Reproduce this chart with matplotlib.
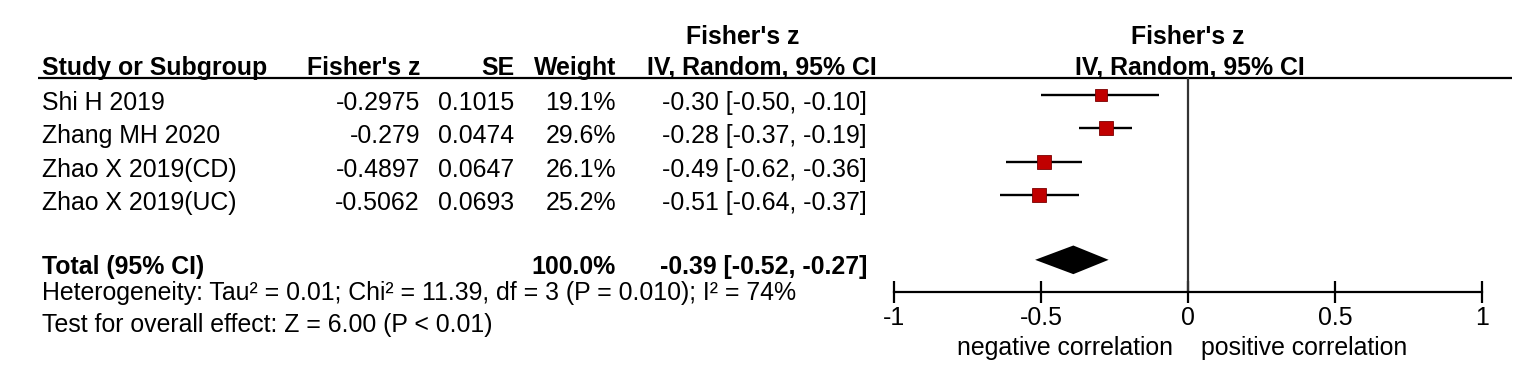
import matplotlib.pyplot as plt
import numpy as np

plt.rcParams['font.family'] = ['Liberation Sans', 'DejaVu Sans']

# data
studies = ["Shi H 2019", "Zhang MH 2020", "Zhao X 2019(CD)", "Zhao X 2019(UC)"]
fisher_z = [-0.2975, -0.279, -0.4897, -0.5062]
se = [0.1015, 0.0474, 0.0647, 0.0693]
weight = [19.1, 29.6, 26.1, 25.2]
ci_est = [-0.30, -0.28, -0.49, -0.51]
ci_lo = [-0.50, -0.37, -0.62, -0.64]
ci_hi = [-0.10, -0.19, -0.36, -0.37]
total_est, total_lo, total_hi = -0.39, -0.52, -0.27
total_weight = 100.0
het_text = "Heterogeneity: Tau\u00b2 = 0.01; Chi\u00b2 = 11.39, df = 3 (P = 0.010); I\u00b2 = 74%"
test_text = "Test for overall effect: Z = 6.00 (P < 0.01)"
xticks = [-1, -0.5, 0, 0.5, 1]
xticklabels = ["-1", "-0.5", "0", "0.5", "1"]

W, H = 1535, 367
FS = 17.9
fig = plt.figure(figsize=(W / 100, H / 100), dpi=100)

# background axes in pixel units for the text table
tx = fig.add_axes([0, 0, 1, 1])
tx.set_xlim(0, W)
tx.set_ylim(H, 0)
tx.axis('off')

row0, rowh = 61.7, 33.3
def row_px(r):
    return row0 + rowh * r

# forest axes: x -1..1 at px 894..1482, y from header line (78) to axis (292)
fx0, fx1, fy_top, fy_bot = 894, 1482, 78, 292
ax = fig.add_axes([fx0 / W, 1 - fy_bot / H, (fx1 - fx0) / W, (fy_bot - fy_top) / H])
ax.patch.set_alpha(0)
ax.set_xlim(-1, 1)
ax.set_ylim((fy_bot - row0) / rowh, (fy_top - row0) / rowh)

rows = np.arange(1, len(studies) + 1)
total_row = 5.95

# headers
tx.text(743, 44, "Fisher's z", fontsize=FS, fontweight='bold', ha='center', va='baseline')
tx.text(42, 75, "Study or Subgroup", fontsize=FS, fontweight='bold', ha='left', va='baseline')
tx.text(420, 75, "Fisher's z", fontsize=FS, fontweight='bold', ha='right', va='baseline')
tx.text(514, 75, "SE", fontsize=FS, fontweight='bold', ha='right', va='baseline')
tx.text(616, 75, "Weight", fontsize=FS, fontweight='bold', ha='right', va='baseline')
tx.text(762, 75, "IV, Random, 95% CI", fontsize=FS, fontweight='bold', ha='center', va='baseline')
tx.text(1188, 44, "Fisher's z", fontsize=FS, fontweight='bold', ha='center', va='baseline')
tx.text(1190, 75, "IV, Random, 95% CI", fontsize=FS, fontweight='bold', ha='center', va='baseline')
tx.plot([38, 1512], [78, 78], color='black', lw=1.6, solid_capstyle='butt')

# study rows
for r, name, z, s, w, e, lo, hi in zip(rows, studies, fisher_z, se, weight, ci_est, ci_lo, ci_hi):
    yb = row_px(r) + 15
    tx.text(42, yb, name, fontsize=FS, ha='left', va='baseline')
    tx.text(420, yb, str(z), fontsize=FS, ha='right', va='baseline')
    tx.text(514, yb, f"{s:.4f}", fontsize=FS, ha='right', va='baseline')
    tx.text(616, yb, f"{w:.1f}%", fontsize=FS, ha='right', va='baseline')
    tx.text(867, yb, f"{e:.2f} [{lo:.2f}, {hi:.2f}]", fontsize=FS, ha='right', va='baseline')

yb = row_px(total_row) + 14
tx.text(42, yb, "Total (95% CI)", fontsize=FS, fontweight='bold', ha='left', va='baseline')
tx.text(616, yb, f"{total_weight:.1f}%", fontsize=FS, fontweight='bold', ha='right', va='baseline')
tx.text(867, yb, f"{total_est:.2f} [{total_lo:.2f}, {total_hi:.2f}]", fontsize=FS,
        fontweight='bold', ha='right', va='baseline')
tx.text(42, 300, het_text, fontsize=FS, ha='left', va='baseline')
tx.text(42, 332, test_text, fontsize=FS, ha='left', va='baseline')

# forest marks
ax.axvline(0, color='#333333', lw=1.6)
ax.hlines(rows, ci_lo, ci_hi, color='black', lw=1.7)
for r, e, w in zip(rows, fisher_z, weight):
    ax.plot(e, r, marker='s', ms=2.65 * np.sqrt(w) * 0.72, color='#C00000',
            markeredgecolor='#7A0000', markeredgewidth=0.6)
dh = 0.43
ax.fill([total_lo, total_est, total_hi, total_est],
        [total_row, total_row - dh, total_row, total_row + dh], color='black', lw=0)

for side in ['top', 'left', 'right']:
    ax.spines[side].set_visible(False)
ax.spines['bottom'].set_linewidth(1.6)
ax.set_yticks([])
ax.set_xticks(xticks)
ax.set_xticklabels(xticklabels, fontsize=FS)
ax.tick_params(axis='x', direction='inout', length=16, width=1.6, pad=2)

tx.text(1173, 355, "negative correlation", fontsize=FS, ha='right', va='baseline')
tx.text(1201, 355, "positive correlation", fontsize=FS, ha='left', va='baseline')

fig.savefig("out.png", dpi=100)
